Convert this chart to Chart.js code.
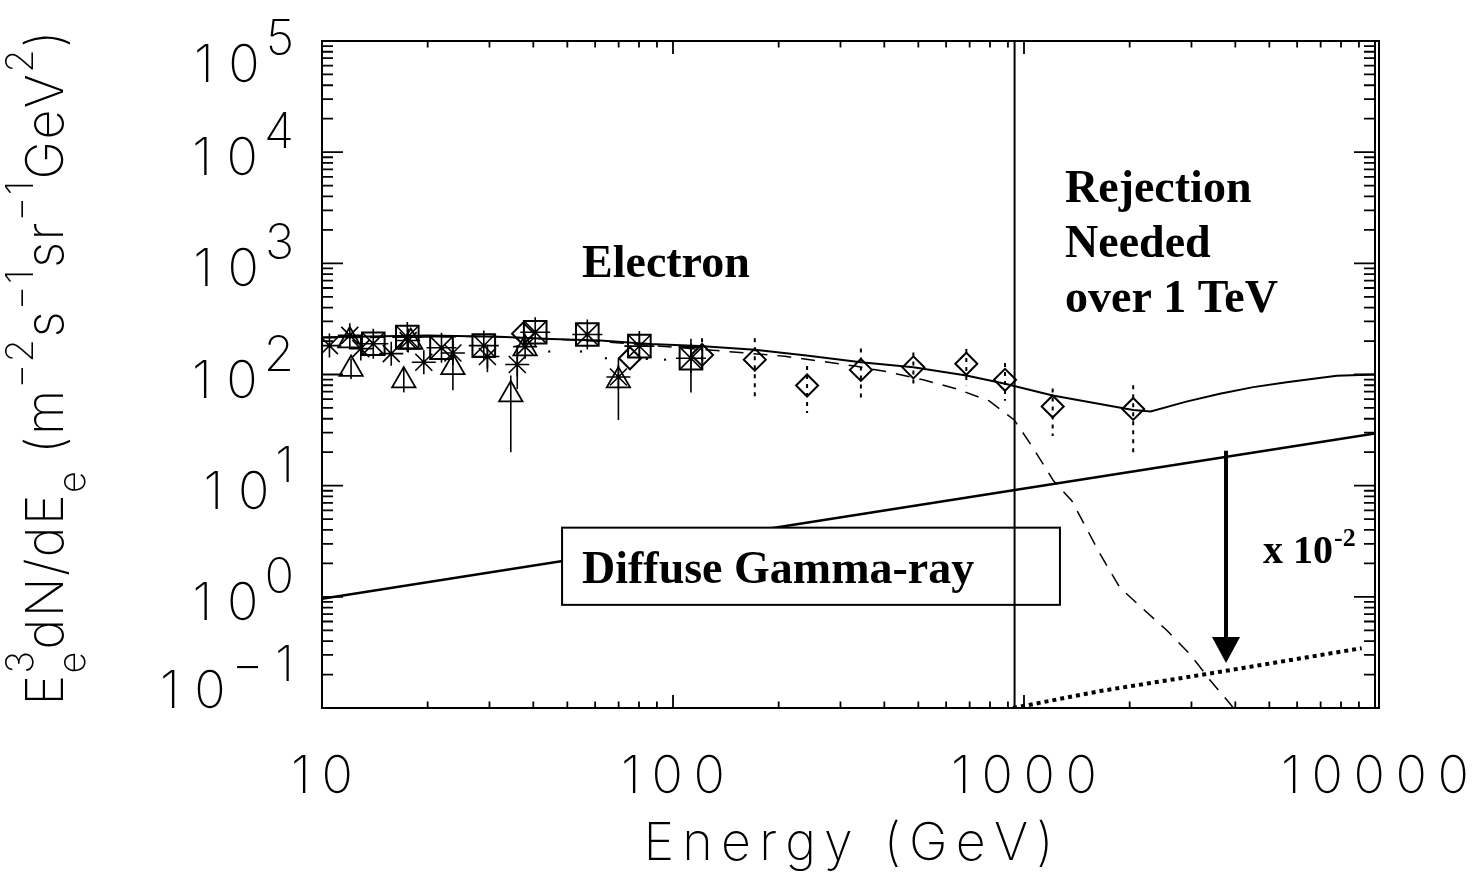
<!DOCTYPE html>
<html>
<head>
<meta charset="utf-8">
<script src="https://cdn.jsdelivr.net/npm/chart.js@4.4.0/dist/chart.umd.min.js"></script>
<style>
  html, body { margin: 0; padding: 0; background: #fff; }
  #wrap { width: 1476px; height: 881px; }
</style>
</head>
<body>
<div id="wrap"><canvas id="myChart"></canvas></div>
<script>
// model curves (E in GeV, E^3 dN/dE)
var totalE = [10, 20, 32, 45, 62, 86, 119, 171, 240, 343, 484, 685, 883, 1207, 2047, 2296, 2900, 3614, 4500, 5598, 7780, 10000];
var totalF = [216, 224, 219, 209, 202, 188, 180, 167, 148, 129, 116, 98, 82.4, 64.7, 48, 46.5, 57, 67, 77, 85.3, 97.4, 100];

var dashE = [10, 30, 60, 133, 208, 262, 330, 413, 516, 643, 796, 938, 1059, 1212, 1368, 1647, 1875, 2183, 2551, 2985, 3390, 3864, 4000];
var dashF = [214, 220, 200, 164, 146, 132, 119, 105, 89.6, 74.3, 57.9, 39, 22.1, 11.1, 7.33, 2.43, 1.21, 0.78, 0.50, 0.30, 0.178, 0.109, 0.095];

var gammaE = [10, 4911, 10000];
var gammaF = [0.96, 20.7, 29.4];

var gammaLowE = [931, 1647, 3279, 9162];
var gammaLowF = [0.1, 0.142, 0.201, 0.345];

// measurements
var triE = [12.0, 12.1, 17.9, 17.1, 23.6, 34.5, 37.9, 69.9];
var triF = [202, 112, 196, 88, 116, 66, 171, 88];
var triLo = [null, 91, null, 69, 72, 20, null, 39];
var triHi = [null, 139, null, 112, 147, 98, null, 139];

var astE = [10.5, 12.0, 12.9, 15.75, 17.6, 19.5, 23.6, 29.6, 36.0, 37.9, 69.9];
var astF = [182, 225, 171, 154, 202, 129, 156, 145, 123, 178, 95];
var astLo = [null, null, null, null, null, null, 130, 105, 74, null, null];
var astHi = [null, null, null, null, null, null, 184, 171, 184, null, null];

var sqE = [14.0, 17.5, 21.9, 28.9, 40.5, 57.0, 80.2, 112.5];
var sqF = [189, 217, 174, 182, 240, 229, 180, 140];
var sqLo = [null, null, null, null, null, null, 136, 69];
var sqHi = [null, null, null, null, null, null, 234, 210];

var diaE = [37.4, 75.4, 121, 171, 241, 343, 484, 685, 883, 1207, 2047];
var diaF = [233, 140, 150, 136, 79.6, 110, 116, 125, 89.6, 51.5, 49];
var diaLo = [null, null, 102, 63, 45, 61, 83, 80, 58, 28, 18.6];
var diaHi = [null, null, 212, 212, 119, 171, 158, 170, 127, 75, 80];

var dotsE = [44.4, 54.7, 64.4, 84.2, 94.9];
var dotsF = [161, 161, 140, 138, 136];

// annotations
var rejectE = 940;
var arrowE = 3763, arrowTop = 20.6, arrowTip = 0.254;
var boxE = [48.3, 1266], boxF = [0.847, 4.19];

var xTicks = [10, 100, 1000, 10000];
var xTickLabels = ['10', '100', '1000', '10000'];
var yDecades = [-1, 0, 1, 2, 3, 4, 5];

function pts(es, fs) {
    return es.map(function (e, i) { return { x: e, y: fs[i] }; });
}

var thin = '"Inter", "DejaVu Sans", sans-serif';
var serif = '"Liberation Serif", "Times New Roman", serif';

function spacedWidth(c, s, sp) {
    var w = 0;
    for (var i = 0; i < s.length; i++) {
        w += c.measureText(s[i]).width + (i < s.length - 1 ? sp : 0);
    }
    return w;
}
function drawSpaced(c, s, x, y, sp) {
    for (var i = 0; i < s.length; i++) {
        c.fillText(s[i], x, y);
        x += c.measureText(s[i]).width + sp;
    }
    return x;
}

function errBars(c, xs, ys, es, lo, hi) {
    for (var i = 0; i < es.length; i++) {
        if (lo[i] == null) continue;
        var x = xs.getPixelForValue(es[i]);
        c.beginPath();
        c.moveTo(x, ys.getPixelForValue(hi[i]));
        c.lineTo(x, ys.getPixelForValue(lo[i]));
        c.stroke();
    }
}

var idlPlugin = {
    id: 'idl',
    afterDatasetsDraw: function (chart) {
        var c = chart.ctx, xs = chart.scales.x, ys = chart.scales.y, a = chart.chartArea;
        c.save();
        c.strokeStyle = '#000';
        c.fillStyle = '#000';
        // error bars
        c.lineWidth = 1.6;
        errBars(c, xs, ys, triE, triLo, triHi);
        errBars(c, xs, ys, astE, astLo, astHi);
        errBars(c, xs, ys, sqE, sqLo, sqHi);
        c.setLineDash([4, 5]);
        c.lineWidth = 2;
        errBars(c, xs, ys, diaE, diaLo, diaHi);
        c.setLineDash([]);

        // arrow x 10^-2
        var ax = xs.getPixelForValue(arrowE);
        var at = ys.getPixelForValue(arrowTop), ab = ys.getPixelForValue(arrowTip);
        c.lineWidth = 4;
        c.beginPath();
        c.moveTo(ax, at);
        c.lineTo(ax, ab - 22);
        c.stroke();
        c.beginPath();
        c.moveTo(ax - 14, ab - 26);
        c.lineTo(ax + 14, ab - 26);
        c.lineTo(ax, ab);
        c.closePath();
        c.fill();

        // diffuse gamma box
        var bx0 = xs.getPixelForValue(boxE[0]), bx1 = xs.getPixelForValue(boxE[1]);
        var by0 = ys.getPixelForValue(boxF[1]), by1 = ys.getPixelForValue(boxF[0]);
        c.fillStyle = '#fff';
        c.fillRect(bx0, by0, bx1 - bx0, by1 - by0);
        c.lineWidth = 2;
        c.strokeRect(bx0, by0, bx1 - bx0, by1 - by0);
        c.fillStyle = '#000';

        // rejection region
        var rx = xs.getPixelForValue(rejectE);
        c.lineWidth = 2;
        c.strokeRect(rx, a.top, a.right + 4 - rx, a.bottom - a.top);

        // annotation texts
        c.font = 'bold 46px ' + serif;
        c.textAlign = 'left';
        c.textBaseline = 'alphabetic';
        c.fillText('Electron', 582, 277);
        c.fillText('Rejection', 1065, 202);
        c.fillText('Needed', 1065, 257);
        c.fillText('over 1 TeV', 1065, 312);
        c.fillText('Diffuse Gamma-ray', 582, 583);
        c.font = 'bold 40px ' + serif;
        c.fillText('x 10', 1263, 563);
        var w = c.measureText('x 10').width;
        c.font = 'bold 26px ' + serif;
        c.fillText('-2', 1263 + w + 1, 546);
        c.restore();
    },
    afterDraw: function (chart) {
        var c = chart.ctx, xs = chart.scales.x, ys = chart.scales.y, a = chart.chartArea;
        c.save();
        c.strokeStyle = '#000';
        c.fillStyle = '#000';
        c.lineWidth = 2;
        c.strokeRect(a.left, a.top, a.right - a.left, a.bottom - a.top);

        // x ticks, top and bottom, inward
        c.lineWidth = 1.8;
        for (var d = 10; d <= 10000; d *= 10) {
            for (var k = 1; k <= 9; k++) {
                var v = d * k;
                if (v > 10000) break;
                var x = xs.getPixelForValue(v);
                var len = k === 1 ? 13 : 6.5;
                c.beginPath();
                c.moveTo(x, a.bottom); c.lineTo(x, a.bottom - len);
                c.moveTo(x, a.top); c.lineTo(x, a.top + len);
                c.stroke();
            }
        }
        // y ticks, left and right
        for (var p = -1; p <= 5; p++) {
            for (var m = 1; m <= 9; m++) {
                var val = Math.pow(10, p) * m;
                if (val > 100000 * 1.0001) break;
                var y = ys.getPixelForValue(val);
                var l2 = m === 1 ? 21 : 11;
                c.beginPath();
                c.moveTo(a.left, y); c.lineTo(a.left + l2, y);
                c.moveTo(a.right, y); c.lineTo(a.right - l2, y);
                c.stroke();
            }
        }

        // x tick labels
        c.textBaseline = 'alphabetic';
        c.textAlign = 'left';
        c.font = '200 52px ' + thin;
        var numSp = 42 - c.measureText('0').width;
        xTicks.forEach(function (t, i) {
            var s = xTickLabels[i];
            var w = spacedWidth(c, s, numSp);
            drawSpaced(c, s, xs.getPixelForValue(t) - w / 2, 793, numSp);
        });

        // y tick labels 10^n
        yDecades.forEach(function (dd) {
            var yt = ys.getPixelForValue(Math.pow(10, dd));
            var base = Math.min(Math.max(yt + 23, 82), 708);
            var expStr = dd < 0 ? '\u2212' + (-dd) : String(dd);
            c.font = '200 49px ' + thin;
            var ew = spacedWidth(c, expStr, 12);
            var ex = 294 - ew;
            drawSpaced(c, expStr, ex, base - 27, 12);
            c.font = '200 52px ' + thin;
            var nw = spacedWidth(c, '10', numSp + 4);
            drawSpaced(c, '10', ex - 6 - nw, base, numSp + 4);
        });

        // x title
        c.font = '200 52px ' + thin;
        var xt = 'Energy (GeV)';
        var nat = spacedWidth(c, xt, 0);
        var sp = (410 - nat) / (xt.length - 1);
        drawSpaced(c, xt, (a.left + a.right) / 2 - 205, 860, sp);

        // y title, rotated
        var segs = [
            { t: 'E' }, { sub: 'e', sup: '3' }, { t: 'dN/dE' }, { sub: 'e' },
            { t: ' (m' }, { sup: '\u22122' }, { t: 's' }, { sup: '\u22121' },
            { t: 'sr' }, { sup: '\u22121' }, { t: 'GeV' }, { sup: '2' }, { t: ')' }
        ];
        var mainF = '200 52px ' + thin, scrF = '200 38px ' + thin;
        var nChars = 0, natural = 0;
        segs.forEach(function (s) {
            if (s.t) { c.font = mainF; natural += spacedWidth(c, s.t, 0); nChars += s.t.length; }
            else {
                c.font = scrF;
                var w1 = s.sub ? spacedWidth(c, s.sub, 0) : 0;
                var w2 = s.sup ? spacedWidth(c, s.sup, 0) : 0;
                natural += Math.max(w1, w2);
                nChars += Math.max(s.sub ? s.sub.length : 0, s.sup ? s.sup.length : 0);
            }
        });
        var ysp = (675 - natural) / (nChars - 1);
        c.translate(63, 368);
        c.rotate(-Math.PI / 2);
        var cx = -337.5;
        segs.forEach(function (s) {
            if (s.t) {
                c.font = mainF;
                cx = drawSpaced(c, s.t, cx, 0, ysp);
            } else {
                c.font = scrF;
                var e1 = cx, e2 = cx;
                if (s.sub) e1 = drawSpaced(c, s.sub, cx, 22, ysp);
                if (s.sup) e2 = drawSpaced(c, s.sup, cx, -30, ysp);
                cx = Math.max(e1, e2);
            }
        });
        c.restore();
    }
};

var ctx = document.getElementById('myChart').getContext('2d');
var myChart = new Chart(ctx, {
    type: 'scatter',
    data: {
        datasets: [
            { data: pts(diaE, diaF), pointStyle: 'rectRot', pointRadius: 11, borderColor: '#000', backgroundColor: 'rgba(0,0,0,0)', pointBorderWidth: 2 },
            { data: pts(sqE, sqF), pointStyle: 'rect', pointRadius: 16, borderColor: '#000', backgroundColor: 'rgba(0,0,0,0)', pointBorderWidth: 2 },
            { data: pts(sqE, sqF), pointStyle: 'star', pointRadius: 15, borderColor: '#000', pointBorderWidth: 1.6 },
            { data: pts(astE, astF), pointStyle: 'star', pointRadius: 12, borderColor: '#000', pointBorderWidth: 1.6 },
            { data: pts(triE, triF), pointStyle: 'triangle', pointRadius: 13.5, borderColor: '#000', backgroundColor: 'rgba(0,0,0,0)', pointBorderWidth: 1.8 },
            { data: pts(dotsE, dotsF), pointStyle: 'rect', pointRadius: 1.5, borderColor: '#000', backgroundColor: '#000', pointBorderWidth: 0 },
            { data: pts(totalE, totalF), showLine: true, pointRadius: 0, borderColor: '#000', borderWidth: 2 },
            { data: pts(dashE, dashF), showLine: true, pointRadius: 0, borderColor: '#000', borderWidth: 1.5, borderDash: [14, 10] },
            { data: pts(gammaE, gammaF), showLine: true, pointRadius: 0, borderColor: '#000', borderWidth: 2.5 },
            { data: pts(gammaLowE, gammaLowF), showLine: true, pointRadius: 0, borderColor: '#000', borderWidth: 4, borderDash: [4, 4] }
        ]
    },
    options: {
        responsive: true,
        maintainAspectRatio: false,
        animation: false,
        devicePixelRatio: 1,
        layout: { padding: { left: 322, right: 101, top: 41, bottom: 173 } },
        plugins: { legend: { display: false }, tooltip: { enabled: false } },
        scales: {
            x: { type: 'logarithmic', min: 10, max: 10000, display: false },
            y: { type: 'logarithmic', min: 0.1, max: 100000, display: false }
        }
    },
    plugins: [idlPlugin]
});
</script>
</body>
</html>
